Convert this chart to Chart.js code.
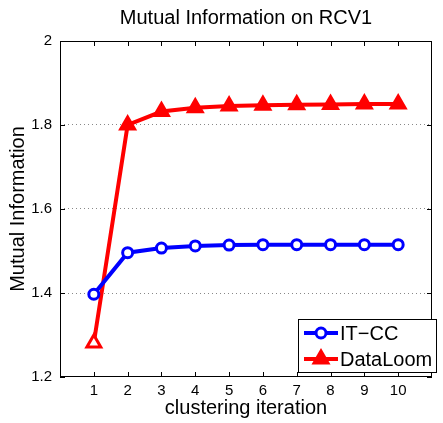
<!DOCTYPE html>
<html>
<head>
<meta charset="utf-8">
<script src="https://cdn.jsdelivr.net/npm/chart.js@4"></script>
<style>
  html, body { margin: 0; padding: 0; background: #fff; }
  #wrap { width: 443px; height: 423px; }
</style>
</head>
<body>
<div id="wrap"><canvas id="miChart"></canvas></div>
<script>
// data
const iterations = [1, 2, 3, 4, 5, 6, 7, 8, 9, 10];
const itcc = [1.397, 1.496, 1.507, 1.512, 1.514, 1.515, 1.515, 1.515, 1.515, 1.515];
const dataloom = [1.281, 1.800, 1.832, 1.841, 1.845, 1.847, 1.848, 1.849, 1.850, 1.850];
const yTicks = [1.2, 1.4, 1.6, 1.8, 2];
const chartTitle = "Mutual Information on RCV1";

const FONT = "'Liberation Sans', Arial, sans-serif";

function pts(vals) {
  return iterations.map((it, i) => ({ x: it, y: vals[i] }));
}

// title over the axes, box, inward ticks and legend box (matlab style)
const matlabFrame = {
  id: "matlabFrame",
  afterDraw(chart) {
    const ctx = chart.ctx;
    const a = chart.chartArea;
    const xs = chart.scales.x, ys = chart.scales.y;
    ctx.save();

    ctx.fillStyle = "#000";
    ctx.font = "20px " + FONT;
    ctx.textAlign = "center";
    ctx.textBaseline = "middle";
    ctx.fillText(chartTitle, (a.left + a.right) / 2, 18);

    ctx.strokeStyle = "#000";
    ctx.lineWidth = 1;
    ctx.strokeRect(a.left + 0.5, a.top + 0.5, a.right - a.left - 1, a.bottom - a.top - 1);
    ctx.beginPath();
    iterations.forEach(v => {
      const px = Math.round(xs.getPixelForValue(v)) + 0.5;
      ctx.moveTo(px, a.bottom); ctx.lineTo(px, a.bottom - 5);
      ctx.moveTo(px, a.top); ctx.lineTo(px, a.top + 5);
    });
    yTicks.forEach(v => {
      const py = Math.round(ys.getPixelForValue(v)) + 0.5;
      ctx.moveTo(a.left, py); ctx.lineTo(a.left + 5, py);
      ctx.moveTo(a.right, py); ctx.lineTo(a.right - 5, py);
    });
    ctx.stroke();

    // legend
    const lx = 298, ly = 319, lw = 138, lh = 53;
    ctx.fillStyle = "#fff";
    ctx.fillRect(lx, ly, lw, lh);
    ctx.strokeRect(lx + 0.5, ly + 0.5, lw, lh);
    chart.data.datasets.forEach((ds, i) => {
      const cy = ly + 14 + i * 26;
      ctx.strokeStyle = ds.borderColor;
      ctx.lineWidth = ds.borderWidth;
      ctx.beginPath();
      ctx.moveTo(lx + 6, cy); ctx.lineTo(lx + 40, cy);
      ctx.stroke();
      const bg = ds.pointBackgroundColor;
      ctx.fillStyle = Array.isArray(bg) ? bg[bg.length - 1] : bg;
      ctx.strokeStyle = ds.borderColor;
      ctx.lineWidth = ds.pointBorderWidth;
      Chart.helpers.drawPoint(ctx, {
        pointStyle: ds.pointStyle, radius: ds.pointRadius,
        borderWidth: ds.pointBorderWidth, rotation: 0
      }, lx + 23, cy);
      ctx.fillStyle = "#000";
      ctx.font = "20px " + FONT;
      ctx.textBaseline = "middle";
      ctx.textAlign = "left";
      ctx.fillText(ds.label, lx + 42, cy + 1);
    });
    ctx.restore();
  }
};

new Chart(document.getElementById("miChart"), {
  type: "line",
  data: {
    datasets: [
      {
        label: "IT\u2212CC",
        data: pts(itcc),
        borderColor: "#0000ff",
        borderWidth: 4,
        pointStyle: "circle",
        pointRadius: 5,
        pointBorderWidth: 3,
        pointBackgroundColor: "#fff",
        tension: 0
      },
      {
        label: "DataLoom",
        data: pts(dataloom),
        borderColor: "#ff0000",
        borderWidth: 4,
        pointStyle: "triangle",
        pointRadius: 8,
        pointBorderWidth: 3,
        pointBackgroundColor: iterations.map((it, i) => (i === 0 ? "#fff" : "#ff0000")),
        tension: 0
      }
    ]
  },
  plugins: [matlabFrame],
  options: {
    responsive: true,
    maintainAspectRatio: false,
    animation: false,
    layout: { padding: { left: 0, right: 2, top: 41, bottom: 0 } },
    plugins: {
      legend: { display: false },
      tooltip: { enabled: false },
      title: { display: false }
    },
    scales: {
      x: {
        type: "linear",
        min: 0,
        max: 11,
        afterFit(s) { s.height = 46; },
        border: { display: false },
        grid: { display: false, drawTicks: false },
        ticks: {
          stepSize: 1,
          color: "#000",
          padding: 5,
          font: { family: FONT, size: 15 },
          callback: v => (v >= 1 && v <= 10 ? v : "")
        },
        title: {
          display: true,
          text: "clustering iteration",
          color: "#000",
          font: { family: FONT, size: 20 },
          padding: { top: 0, bottom: 3 }
        }
      },
      y: {
        min: 1.2,
        max: 2,
        afterFit(s) { s.width = 60; },
        afterBuildTicks(s) { s.ticks = yTicks.map(v => ({ value: v })); },
        border: { display: false, dash: [1, 3] },
        grid: {
          drawTicks: false,
          color: c => (c.tick && c.tick.value > 1.25 && c.tick.value < 1.95 ? "#888" : "rgba(0,0,0,0)"),
          lineWidth: 1
        },
        ticks: {
          color: "#000",
          padding: 8,
          font: { family: FONT, size: 15 },
          callback: v => String(+v.toFixed(1))
        },
        title: {
          display: true,
          text: "Mutual Information",
          color: "#000",
          font: { family: FONT, size: 20 },
          padding: { top: 6, bottom: 0 }
        }
      }
    }
  }
});
</script>
</body>
</html>
